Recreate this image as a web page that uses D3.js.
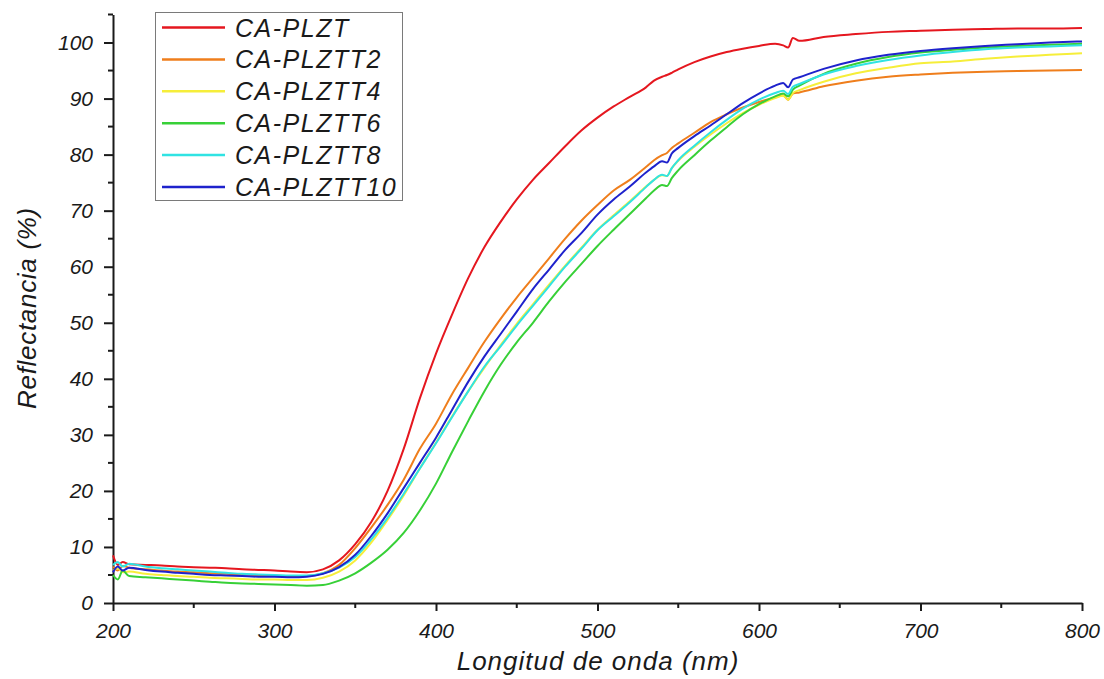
<!DOCTYPE html>
<html>
<head>
<meta charset="utf-8">
<script src="https://cdn.jsdelivr.net/npm/d3@7/dist/d3.min.js"></script>
<style>
  html, body { margin: 0; padding: 0; background: #ffffff; }
  svg { display: block; }
  text { font-family: "Liberation Sans", Arial, Helvetica, sans-serif; font-style: italic; fill: #1a1a1a; }
</style>
</head>
<body>
<svg id="chart" width="1104" height="679"></svg>
<script>
// Wavelength grid (nm) shared by all spectra
const wavelength = [200,203,206,210,220,230,240,250,260,270,280,290,300,310,320,330,340,350,360,370,380,390,400,410,420,430,440,450,460,470,480,490,500,510,520,530,535,540,543,546,550,560,570,580,590,600,610,615,618,621,625,640,660,680,700,720,740,760,780,800];

// Diffuse reflectance (%) for each sample
const plzt     = [8.5,6.8,7.3,6.9,6.8,6.7,6.5,6.4,6.3,6.2,6.0,5.9,5.8,5.6,5.5,6.0,7.6,10.5,14.5,20,27.5,36.5,44.5,51.5,58,63.5,68,72,75.5,78.5,81.5,84.3,86.6,88.6,90.3,92,93.2,93.9,94.2,94.6,95.2,96.5,97.5,98.3,98.9,99.4,99.8,99.5,99.1,100.8,100.3,101.0,101.5,101.9,102.1,102.3,102.4,102.5,102.5,102.6];
const plztt2   = [6.5,5.8,6.6,6.3,6.0,5.8,5.6,5.5,5.3,5.2,5.1,5.0,4.9,4.8,4.8,5.3,6.8,9.8,13.5,17.5,22,27.5,32,37.3,42,46.6,50.7,54.5,58,61.5,65,68.2,71,73.6,75.5,77.8,79,79.9,80.3,81.2,82,83.9,85.8,87.2,88.4,89.4,90.2,90.6,89.8,90.9,91.1,92.2,93.2,93.9,94.3,94.6,94.8,94.9,95.0,95.1];
const plztt4   = [5.8,6.2,5.5,5.6,5.2,5.0,4.8,4.7,4.5,4.4,4.3,4.2,4.2,4.1,4.1,4.5,5.6,7.6,10.8,14.8,19.2,24,28.6,33.3,37.8,42,46,49.8,53.3,56.8,60.2,63.4,66.6,69.2,71.7,74.3,75.5,76.3,76.2,77.6,78.9,81.4,83.6,85.6,87.4,88.9,90.1,90.5,89.8,91.0,91.5,93.0,94.5,95.5,96.3,96.6,97.1,97.5,97.8,98.1];
const plztt6   = [5.0,4.2,5.8,4.8,4.6,4.4,4.2,4.0,3.8,3.6,3.5,3.4,3.3,3.2,3.1,3.2,4.0,5.3,7.2,9.5,12.5,16.5,21.3,27,32.5,37.8,42.5,46.5,50,53.8,57.3,60.5,63.7,66.6,69.4,72.2,73.6,74.6,74.4,75.8,77.2,79.9,82.5,84.9,87.2,89.0,90.4,90.9,90.4,91.6,92.3,94.4,96.2,97.4,98.2,98.7,99.1,99.4,99.6,99.8];
const plztt8   = [6.8,7.3,6.5,7.0,6.5,6.2,6.0,5.8,5.6,5.4,5.2,5.1,5.0,4.9,4.9,5.3,6.3,8.2,11.4,15.2,19.5,24,28.5,33.2,37.8,42.2,45.8,49.5,53,56.5,60,63.2,66.5,69,71.5,74.2,75.5,76.4,76.2,77.6,79.0,81.6,84.0,86.2,88.2,89.8,91.0,91.4,90.8,92.1,92.6,94.3,95.8,96.9,97.7,98.3,98.8,99.1,99.3,99.5];
const plztt10  = [5.5,6.5,5.8,6.3,5.9,5.6,5.4,5.2,5.0,4.9,4.8,4.7,4.7,4.6,4.7,5.2,6.4,8.6,12,16,20.5,25,29.5,34.5,39.5,44,48,52,56,59.5,63,66,69.3,72,74.3,76.8,77.9,78.8,78.6,80.2,81.2,83.3,85.2,87.2,89.2,90.9,92.3,92.8,92.0,93.4,93.8,95.3,96.8,97.8,98.5,99.0,99.4,99.7,100.0,100.2];

const seriesNames  = ["CA-PLZT","CA-PLZTT2","CA-PLZTT4","CA-PLZTT6","CA-PLZTT8","CA-PLZTT10"];
const seriesValues = [plzt, plztt2, plztt4, plztt6, plztt8, plztt10];
const seriesColors = ["#e5171f","#ef7e1c","#f6ee3a","#37d037","#30e3e3","#1e22cc"];

const xMajorTicks = [200,300,400,500,600,700,800];
const yMajorTicks = [0,10,20,30,40,50,60,70,80,90,100];

const xTitle = "Longitud de onda (nm)";
const yTitle = "Reflectancia (%)";

const svg = d3.select("#chart");
svg.append("rect").attr("width", 1104).attr("height", 679).attr("fill", "#ffffff");

const x = d3.scaleLinear().domain([200, 800]).range([113, 1082]);
const y = d3.scaleLinear().domain([0, 105]).range([603, 14.5]);

// Minor ticks
const xMinor = d3.range(250, 800, 100);
const yMinor = d3.range(5, 106, 10);

const axisColor = "#1a1a1a";

const gx = svg.append("g").attr("transform", "translate(0,603)")
  .call(d3.axisBottom(x).tickValues(xMajorTicks).tickFormat(d3.format("d"))
        .tickSize(8).tickSizeOuter(0).tickPadding(12));
gx.selectAll(".tick text").attr("font-size", 21);
gx.append("g").selectAll("line").data(xMinor).join("line")
  .attr("x1", d => x(d)).attr("x2", d => x(d)).attr("y1", 0).attr("y2", 5);

const gy = svg.append("g").attr("transform", "translate(113,0)")
  .call(d3.axisLeft(y).tickValues(yMajorTicks).tickFormat(d3.format("d"))
        .tickSize(9).tickSizeOuter(0).tickPadding(11));
gy.selectAll(".tick text").attr("font-size", 21);
gy.append("g").selectAll("line").data(yMinor).join("line")
  .attr("x1", 0).attr("x2", -5).attr("y1", d => y(d)).attr("y2", d => y(d));

[gx, gy].forEach(g => {
  g.attr("font-family", null);
  g.select(".domain").attr("stroke", axisColor).attr("stroke-width", 2);
  g.selectAll("line").attr("stroke", axisColor).attr("stroke-width", 2);
  g.selectAll("text").attr("fill", axisColor);
});

// Spectra, drawn in legend order
const line = d3.line()
  .x((d, i) => x(wavelength[i]))
  .y(d => y(d))
  .curve(d3.curveMonotoneX);

svg.append("g").attr("fill", "none")
  .selectAll("path").data(seriesValues).join("path")
  .attr("d", line)
  .attr("stroke", (d, i) => seriesColors[i])
  .attr("stroke-width", 2)
  .attr("stroke-linejoin", "round");

// Axis titles
svg.append("text")
  .attr("x", 598).attr("y", 670)
  .attr("text-anchor", "middle")
  .attr("font-size", 26)
  .attr("letter-spacing", 1)
  .text(xTitle);

svg.append("text")
  .attr("transform", "translate(36,308) rotate(-90)")
  .attr("text-anchor", "middle")
  .attr("font-size", 26)
  .attr("letter-spacing", 0.7)
  .text(yTitle);

// Legend
const legend = svg.append("g");
legend.append("rect")
  .attr("x", 155.5).attr("y", 12.5).attr("width", 247).attr("height", 188)
  .attr("fill", "#ffffff").attr("stroke", "#7a7a7a").attr("stroke-width", 1);
const rowY = i => 27.5 + i * 31.9;
legend.selectAll("line").data(seriesNames).join("line")
  .attr("x1", 162).attr("x2", 225)
  .attr("y1", (d, i) => rowY(i)).attr("y2", (d, i) => rowY(i))
  .attr("stroke", (d, i) => seriesColors[i])
  .attr("stroke-width", 2.5);
legend.selectAll("text").data(seriesNames).join("text")
  .attr("x", 235).attr("y", (d, i) => rowY(i))
  .attr("dy", "0.36em")
  .attr("font-size", 25)
  .attr("letter-spacing", 1.5)
  .text(d => d);
</script>
</body>
</html>
